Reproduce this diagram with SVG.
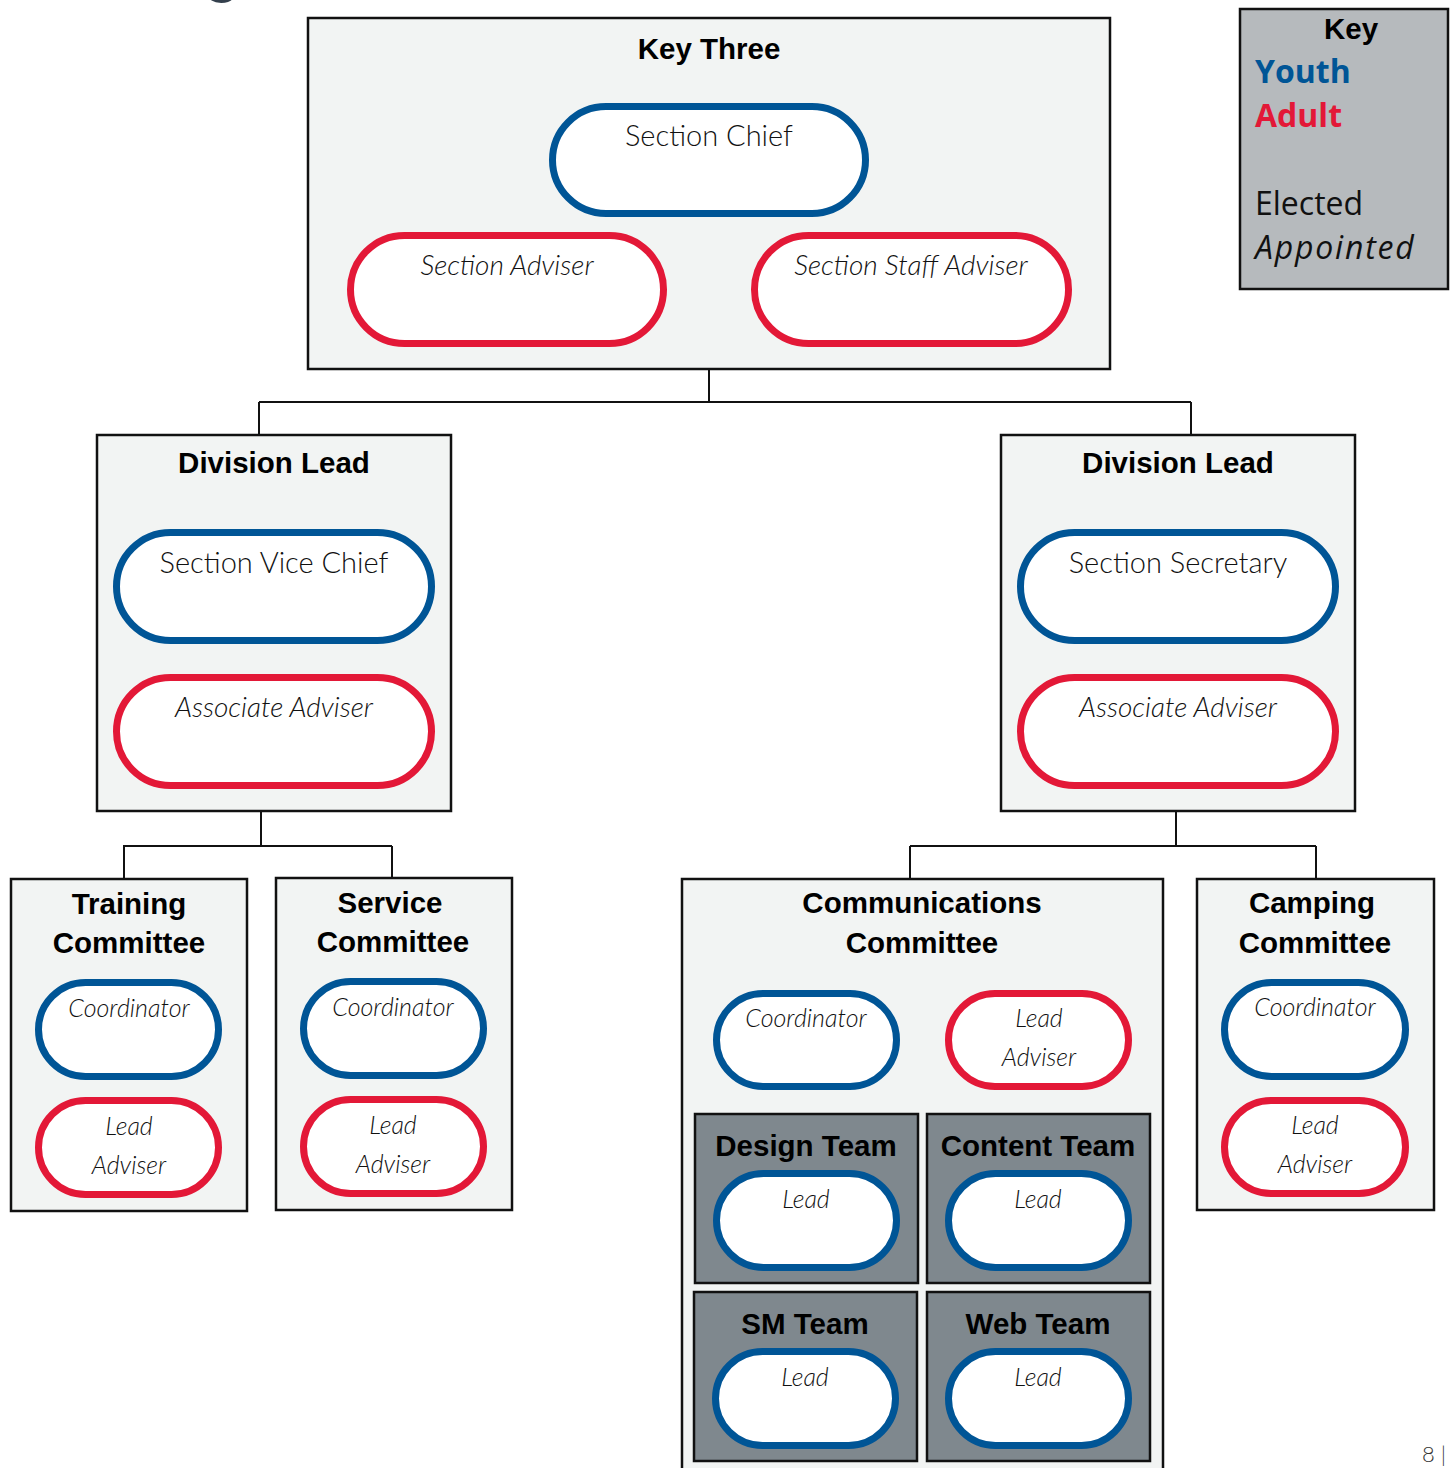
<svg xmlns="http://www.w3.org/2000/svg" width="1450" height="1468" viewBox="0 0 1450 1468">
<style>
.box{fill:#f2f4f3;stroke:#111;stroke-width:2.5}
.team{fill:#7f888e;stroke:#111;stroke-width:2.5}
.key{fill:#b6babd;stroke:#111;stroke-width:2.5}
.y{fill:#fff;stroke:#005596;stroke-width:7}
.a{fill:#fff;stroke:#e31837;stroke-width:7}
.t{font-family:"Liberation Sans",Arial,sans-serif;font-weight:bold;font-size:29.5px;fill:#000;text-anchor:middle}
.p{font-family:Lato,"Open Sans",sans-serif;font-weight:300;font-size:29px;fill:#111;text-anchor:middle}
.pi{font-family:Lato,"Open Sans",sans-serif;font-weight:300;font-style:italic;font-size:28px;fill:#111;text-anchor:middle}
.s{font-size:25px}
.c{fill:none;stroke:#111;stroke-width:2}
.k{font-family:"Open Sans",sans-serif;font-size:32px}
</style>
<rect width="1450" height="1468" fill="#fff"/>
<text x="222" y="-12" font-family="Liberation Sans, sans-serif" font-size="70" fill="#34404d" text-anchor="middle">g</text>

<g id="connectors">
<path class="c" d="M709 369V402M259 402H1191M259 402V435M1191 402V435"/>
<path class="c" d="M261 811V846M123 846H392M124 846V879M392 846V879"/>
<path class="c" d="M1176 811V846M910 846H1316M910 846V879M1316 846V879"/>
</g>

<g id="key-three">
<rect class="box" x="308" y="18" width="802" height="351"/>
<text class="t" x="709" y="59">Key Three</text>
</g>
<g id="section-chief">
<rect class="y" x="552.5" y="106.5" width="313" height="107" rx="53.5"/>
<text class="p" x="709" y="146">Section Chief</text>
</g>
<g id="section-adviser">
<rect class="a" x="350.5" y="235.5" width="313" height="108" rx="54"/>
<text class="pi" x="507" y="275">Section Adviser</text>
</g>
<g id="section-staff-adviser">
<rect class="a" x="754.5" y="235.5" width="314" height="108" rx="54"/>
<text class="pi" x="911" y="275">Section Staff Adviser</text>
</g>

<g id="division-lead-left">
<rect class="box" x="97" y="435" width="354" height="376"/>
<text class="t" x="274" y="473">Division Lead</text>
</g>
<g id="section-vice-chief">
<rect class="y" x="116.5" y="532.5" width="315" height="108" rx="54"/>
<text class="p" x="274" y="573">Section Vice Chief</text>
</g>
<g id="associate-adviser-left">
<rect class="a" x="116.5" y="677.5" width="315" height="108" rx="54"/>
<text class="pi" x="274" y="717">Associate Adviser</text>
</g>

<g id="division-lead-right">
<rect class="box" x="1001" y="435" width="354" height="376"/>
<text class="t" x="1178" y="473">Division Lead</text>
</g>
<g id="section-secretary">
<rect class="y" x="1020.5" y="532.5" width="315" height="108" rx="54"/>
<text class="p" x="1178" y="573">Section Secretary</text>
</g>
<g id="associate-adviser-right">
<rect class="a" x="1020.5" y="677.5" width="315" height="108" rx="54"/>
<text class="pi" x="1178" y="717">Associate Adviser</text>
</g>

<g id="training-committee">
<rect class="box" x="11" y="879" width="236" height="332"/>
<text class="t" x="129" y="914">Training</text>
<text class="t" x="129" y="953">Committee</text>
</g>
<g id="training-coordinator">
<rect class="y" x="38.5" y="982.5" width="180" height="94" rx="47"/>
<text class="pi s" x="129" y="1017">Coordinator</text>
</g>
<g id="training-lead-adviser">
<rect class="a" x="38.5" y="1100.5" width="180" height="94" rx="47"/>
<text class="pi s" x="129" y="1135">Lead</text>
<text class="pi s" x="129" y="1174">Adviser</text>
</g>

<g id="service-committee">
<rect class="box" x="276" y="878" width="236" height="332"/>
<text class="t" x="390" y="913">Service</text>
<text class="t" x="393" y="952">Committee</text>
</g>
<g id="service-coordinator">
<rect class="y" x="303.5" y="981.5" width="180" height="94" rx="47"/>
<text class="pi s" x="393" y="1016">Coordinator</text>
</g>
<g id="service-lead-adviser">
<rect class="a" x="303.5" y="1099.5" width="180" height="94" rx="47"/>
<text class="pi s" x="393" y="1134">Lead</text>
<text class="pi s" x="393" y="1173">Adviser</text>
</g>

<g id="communications-committee">
<rect class="box" x="682" y="879" width="481" height="600"/>
<text class="t" x="922" y="913">Communications</text>
<text class="t" x="922" y="953">Committee</text>
</g>
<g id="communications-coordinator">
<rect class="y" x="716.5" y="993.5" width="180" height="93" rx="46.5"/>
<text class="pi s" x="806" y="1027">Coordinator</text>
</g>
<g id="communications-lead-adviser">
<rect class="a" x="948.5" y="993.5" width="180" height="93" rx="46.5"/>
<text class="pi s" x="1039" y="1027">Lead</text>
<text class="pi s" x="1039" y="1066">Adviser</text>
</g>
<g id="design-team">
<rect class="team" x="695" y="1114" width="223" height="169"/>
<text class="t" x="806" y="1156">Design Team</text>
<rect class="y" x="716.5" y="1173.5" width="180" height="94" rx="47"/>
<text class="pi s" x="806" y="1208">Lead</text>
</g>
<g id="content-team">
<rect class="team" x="927" y="1114" width="223" height="169"/>
<text class="t" x="1038" y="1156">Content Team</text>
<rect class="y" x="948.5" y="1173.5" width="180" height="94" rx="47"/>
<text class="pi s" x="1038" y="1208">Lead</text>
</g>
<g id="sm-team">
<rect class="team" x="694" y="1292" width="223" height="169"/>
<text class="t" x="805" y="1334">SM Team</text>
<rect class="y" x="715.5" y="1351.5" width="180" height="94" rx="47"/>
<text class="pi s" x="805" y="1386">Lead</text>
</g>
<g id="web-team">
<rect class="team" x="927" y="1292" width="223" height="169"/>
<text class="t" x="1038" y="1334">Web Team</text>
<rect class="y" x="948.5" y="1351.5" width="180" height="94" rx="47"/>
<text class="pi s" x="1038" y="1386">Lead</text>
</g>

<g id="camping-committee">
<rect class="box" x="1197" y="879" width="237" height="331"/>
<text class="t" x="1312" y="913">Camping</text>
<text class="t" x="1315" y="953">Committee</text>
</g>
<g id="camping-coordinator">
<rect class="y" x="1224.5" y="982.5" width="181" height="94" rx="47"/>
<text class="pi s" x="1315" y="1016">Coordinator</text>
</g>
<g id="camping-lead-adviser">
<rect class="a" x="1224.5" y="1100.5" width="181" height="93" rx="46.5"/>
<text class="pi s" x="1315" y="1134">Lead</text>
<text class="pi s" x="1315" y="1173">Adviser</text>
</g>

<g id="key">
<rect class="key" x="1240" y="9" width="208" height="280"/>
<text class="t" x="1351" y="39" font-size="33">Key</text>
<text class="k" x="1255" y="83" font-weight="bold" font-size="31" fill="#005596">Youth</text>
<text class="k" x="1255" y="127" font-weight="bold" font-size="31" fill="#e31837">Adult</text>
<text class="k" x="1255" y="215" font-size="33" fill="#111">Elected</text>
<text class="k" x="1255" y="259" font-style="italic" font-size="33" letter-spacing="1.8" fill="#111">Appointed</text>
</g>
<text x="1422" y="1462" font-family="Lato,sans-serif" font-weight="300" font-size="22" fill="#333">8 |</text>
</svg>
